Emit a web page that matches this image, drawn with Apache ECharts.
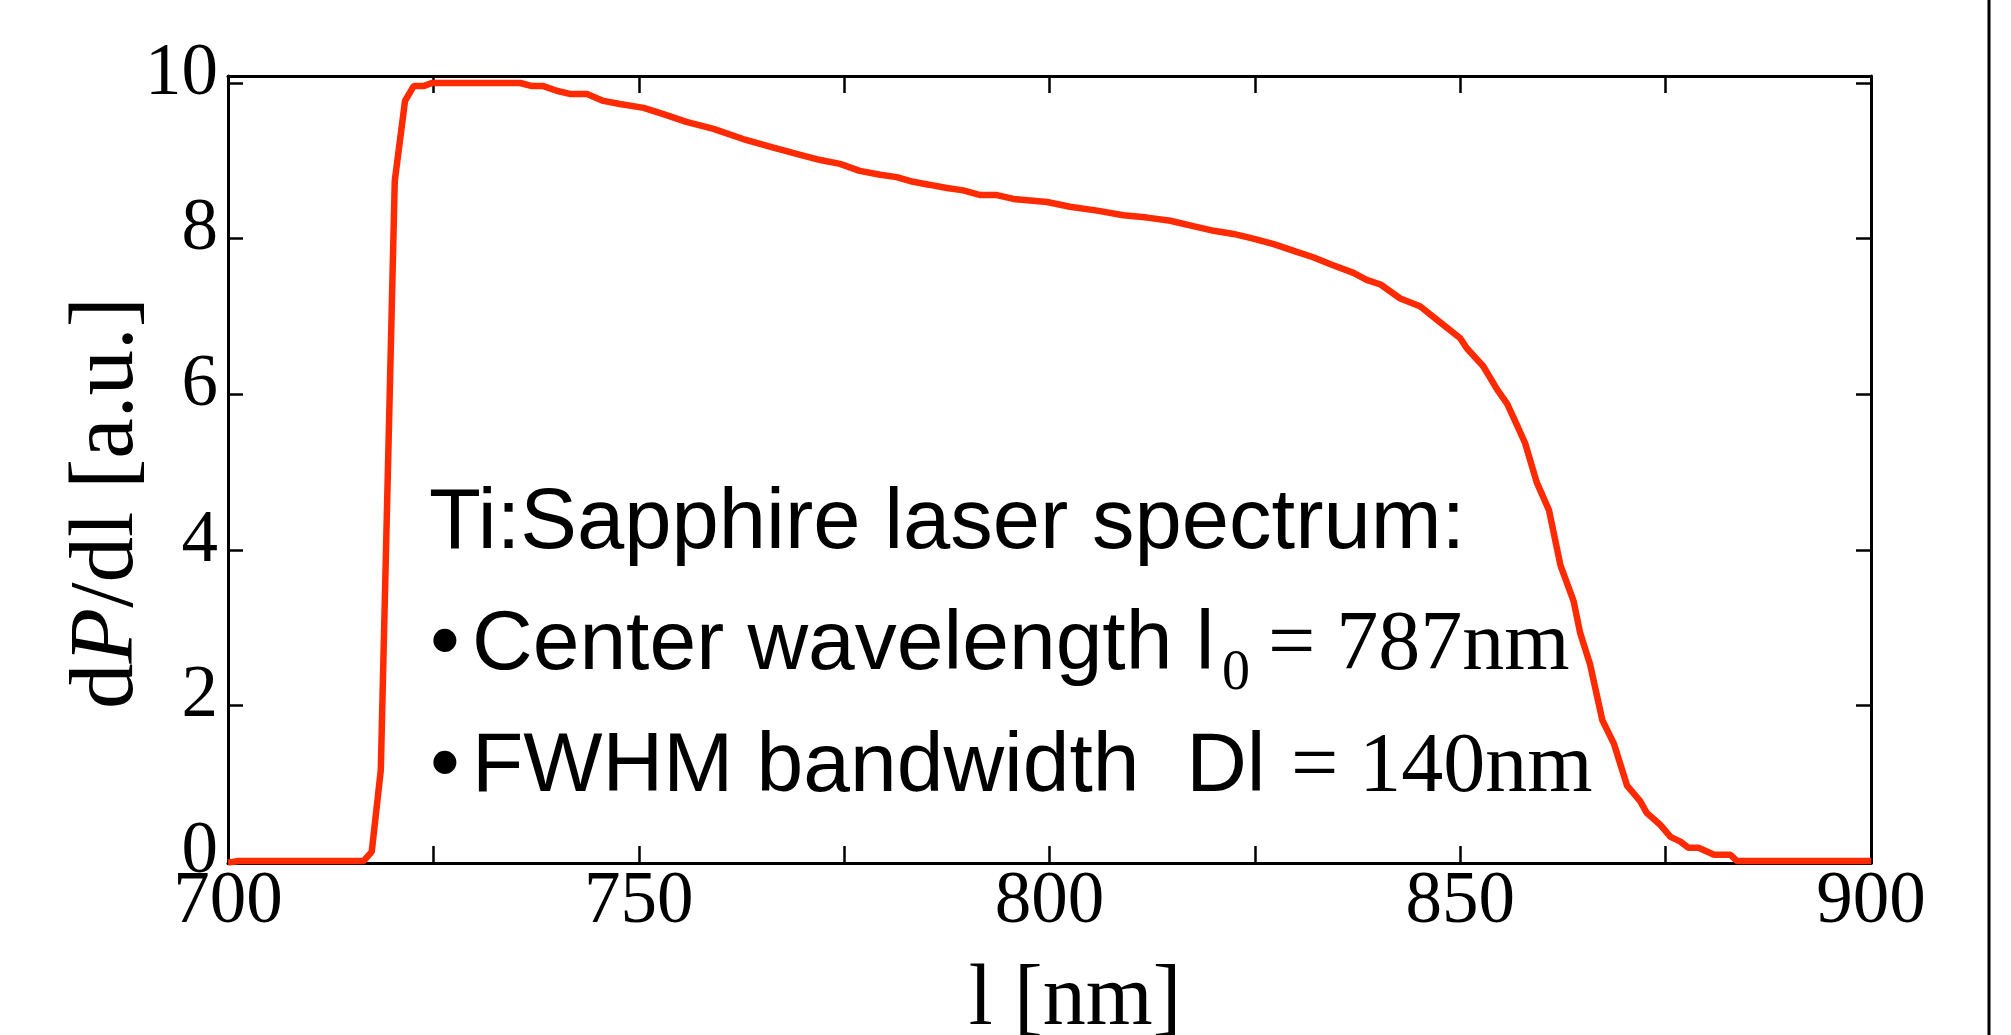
<!DOCTYPE html>
<html>
<head>
<meta charset="utf-8">
<script src="https://cdn.jsdelivr.net/npm/echarts@6/dist/echarts.min.js"></script>
<style>
  html, body { margin: 0; padding: 0; background: #fff; }
  #chart { width: 2011px; height: 1035px; }
</style>
</head>
<body>
<div id="chart"></div>
<script>
// ---- Data ----
const wavelength = [700.0, 701.3, 716.5, 717.5, 718.6, 720.3, 721.55, 722.6, 723.8, 724.8,
  735.6, 737.0, 738.4, 740.0, 741.6, 743.7, 745.7, 747.7, 750.6, 753.0,
  755.8, 759.1, 762.7, 766.4, 769.2, 772.1, 774.5, 776.9, 779.4, 781.4,
  783.4, 785.5, 787.5, 789.5, 791.6, 793.6, 795.6, 799.7, 802.5, 805.8,
  809.0, 811.9, 814.7, 817.5, 820.0, 822.4, 824.8, 827.3, 830.1, 832.1,
  834.2, 837.0, 838.6, 840.3, 842.7, 845.1, 847.6, 850.0, 850.8, 852.8,
  854.5, 855.7, 856.7, 857.9, 859.3, 860.8, 862.2, 863.8, 864.6, 865.8,
  867.3, 868.7, 870.3, 871.9, 872.7, 874.3, 875.6, 876.8, 877.8, 879.0,
  880.9, 882.9, 883.7, 900.0];
const intensity = [-0.02, 0.0, 0.0, 0.12, 1.17, 8.74, 9.77, 9.96, 9.96, 10.0,
  10.0, 9.96, 9.96, 9.90, 9.86, 9.86, 9.77, 9.73, 9.68, 9.60,
  9.50, 9.41, 9.28, 9.17, 9.09, 9.01, 8.96, 8.87, 8.82, 8.79,
  8.73, 8.69, 8.65, 8.62, 8.56, 8.56, 8.51, 8.47, 8.41, 8.36,
  8.30, 8.27, 8.23, 8.16, 8.10, 8.06, 8.00, 7.93, 7.83, 7.76,
  7.67, 7.56, 7.47, 7.41, 7.23, 7.13, 6.92, 6.72, 6.59, 6.36,
  6.06, 5.88, 5.65, 5.37, 4.87, 4.51, 3.80, 3.34, 2.93, 2.53,
  1.81, 1.51, 0.97, 0.77, 0.62, 0.47, 0.31, 0.25, 0.17, 0.17,
  0.08, 0.08, 0.0, 0.0];
const yTickValues = [0, 2, 4, 6, 8, 10];
const xLabelValues = [700, 750, 800, 850, 900];

const seriesData = wavelength.map((w, i) => [w, intensity[i]]);

const SERIF = '"Liberation Serif", "Times New Roman", serif';
const SANS = '"Liberation Sans", Arial, sans-serif';
const AX = { color: '#000', width: 3 };
const TK = { color: '#000', width: 2.5 };

const chart = echarts.init(document.getElementById('chart'), null, { renderer: 'canvas' });

const xCommon = {
  type: 'value', min: 700, max: 900, interval: 25,
  splitLine: { show: false },
  axisLine: { show: true, onZero: false, lineStyle: AX },
  axisTick: { show: true, inside: true, length: 17, lineStyle: TK }
};
const yCommon = {
  type: 'value', min: -0.025, max: 10.09,
  splitLine: { show: false },
  axisLine: { show: true, onZero: false, lineStyle: AX },
  axisTick: { show: true, inside: true, length: 15, lineStyle: TK, customValues: yTickValues }
};

function txt(x, y, text, family, size) {
  return {
    type: 'text', x: x, y: y,
    style: { text: text, fontFamily: family, fontSize: size, fill: '#000', align: 'left', verticalAlign: 'middle' }
  };
}

chart.setOption({
  animation: false,
  backgroundColor: '#fff',
  grid: { left: 228, right: 140, top: 76, bottom: 172, containLabel: false },
  xAxis: [
    Object.assign({}, xCommon, {
      position: 'bottom',
      axisLabel: {
        show: true, margin: 3, fontFamily: SERIF, fontSize: 73, color: '#000',
        formatter: v => (xLabelValues.indexOf(v) >= 0 ? String(v) : '')
      }
    }),
    Object.assign({}, xCommon, { position: 'top', axisLabel: { show: false } })
  ],
  yAxis: [
    Object.assign({}, yCommon, {
      position: 'left',
      axisLabel: {
        show: true, margin: 10, fontFamily: SERIF, fontSize: 73, color: '#000',
        verticalAlign: 'bottom', lineHeight: 73, padding: [0, 0, -28, 0],
        customValues: yTickValues
      }
    }),
    Object.assign({}, yCommon, { position: 'right', axisLabel: { show: false } })
  ],
  series: [{
    type: 'line',
    data: seriesData,
    xAxisIndex: 0, yAxisIndex: 0,
    showSymbol: false,
    lineStyle: { color: '#ff2a00', width: 6.5 },
    itemStyle: { color: '#ff2a00' },
    clip: true
  }],
  graphic: [
    // Y axis title
    {
      type: 'text', x: 108, y: 503, rotation: Math.PI / 2,
      style: {
        text: '{n|d}{i|P}{n|/dl [a.u.]}',
        align: 'center', verticalAlign: 'middle',
        rich: {
          n: { fontFamily: SERIF, fontSize: 91, fill: '#000' },
          i: { fontFamily: SERIF, fontSize: 91, fontStyle: 'italic', fill: '#000' }
        }
      }
    },
    // X axis title
    {
      type: 'text', x: 1075, y: 1001,
      style: { text: 'l [nm]', fontFamily: SERIF, fontSize: 86, fill: '#000', align: 'center', verticalAlign: 'middle' }
    },
    // Annotation
    txt(429, 525, 'Ti:Sapphire laser spectrum:', SANS, 85),
    txt(430, 646, '\u2022', SANS, 85),
    txt(472, 646, 'Center wavelength l', SANS, 84),
    txt(1222, 674, '0', SERIF, 56),
    txt(1268, 647, '= 787nm', SERIF, 84),
    txt(430, 768, '\u2022', SANS, 85),
    txt(472, 768, 'FWHM bandwidth  Dl', SANS, 84),
    txt(1291, 769, '= 140nm', SERIF, 84),
    // Page edge line at right
    {
      type: 'line', shape: { x1: 1989, y1: 0, x2: 1989, y2: 1035 },
      style: { stroke: '#000', lineWidth: 3 }
    }
  ]
});
</script>
</body>
</html>
